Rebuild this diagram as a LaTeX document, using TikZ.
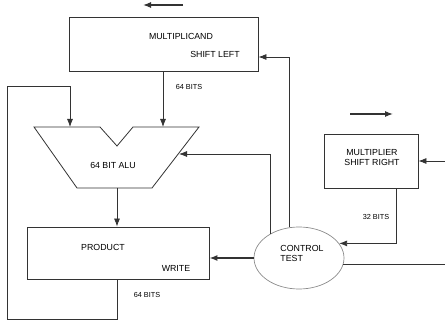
\documentclass[tikz,border=0pt]{standalone}
\usepackage{fontspec}
\setmainfont{Liberation Sans}
\usetikzlibrary{arrows.meta,shapes.geometric}

\tikzset{
  wire/.style={draw=black!80, line width=0.8pt},
  arr/.style={wire, -{Latex[length=8pt,width=6pt]}},
  reg/.style={draw=black!80, line width=0.8pt, rectangle, inner sep=0pt},
  lbl/.style={font=\fontsize{8.8}{10}\selectfont, inner sep=0pt},
  bits/.style={font=\fontsize{7.3}{8.5}\selectfont, inner sep=0pt}
}

\begin{document}
\begin{tikzpicture}[x=1pt,y=-1pt]
    \useasboundingbox (0,0) rectangle (445,326);

    % Registers and control
    \node[reg, minimum width=189pt, minimum height=54pt] (mcand) at (163.5,44) {};
    \node[reg, minimum width=182pt, minimum height=52pt] (prod) at (118,253) {};
    \node[reg, minimum width=94pt, minimum height=54pt] (mplier) at (371,161) {};
    \node[draw=black!45, line width=0.7pt, ellipse, minimum width=90pt, minimum height=62pt, inner sep=0pt] (ctrl) at (299,258) {};

    % ALU outline
    \draw[wire] (34,127) -- (100,127) -- (117,146) -- (133,127) -- (199,127)
                -- (152,188) -- (77,188) -- cycle;
    \coordinate (aluA) at (70,127);
    \coordinate (aluB) at (163,127);
    \coordinate (aluR) at (179,154);
    \coordinate (aluOut) at (117,188);

    % Texts
    \node[lbl] (tmcand) at (181,36) {MULTIPLICAND};
    \node[lbl] (tsl) at (215,54) {SHIFT LEFT};
    \node[lbl] (talu) at (113,165) {64 BIT ALU};
    \node[lbl] (tprod) at (103,247) {PRODUCT};
    \node[lbl] (twrite) at (176,268) {WRITE};
    \node[lbl, align=center] (tmplier) at (372,158) {MULTIPLIER\\SHIFT RIGHT};
    \node[lbl, align=left] (tctrl) at (302,253) {CONTROL\\TEST};
    \node[bits] (bitsA) at (189,87) {64 BITS};
    \node[bits] (bitsB) at (147,295) {64 BITS};
    \node[bits] (bitsC) at (376,217) {32 BITS};

    % Data paths
    \draw[arr] (mcand.south -| aluB) -- (aluB);
    \draw[arr] (aluOut) -- (aluOut |- prod.north);
    \draw[arr] (prod.south -| aluOut) -- ++(0,40) -| (7,86) -| (aluA);
    \draw[arr] ([xshift=25pt]mplier.south) |- (ctrl.20);

    % Control paths
    \draw[arr] (ctrl.140) |- (aluR);
    \draw[arr] (ctrl.107) |- ([yshift=-13pt]mcand.east);
    \draw[arr, line width=1.4pt] (ctrl.west) -- (ctrl.west -| prod.east);
    \coordinate (inR) at (445,161);
    \coordinate (outR) at (445,263);
    \draw[arr] (inR) -- (mplier.east);
    \draw[wire] (ctrl.-8) -- (ctrl.-8 -| outR);

    % Shift directions
    \coordinate (sl0) at (183,5);
    \coordinate (sl1) at (143,5);
    \coordinate (sr0) at (350,114);
    \coordinate (sr1) at (393,114);
    \draw[arr, line width=1.1pt] (sl0) -- (sl1);
    \draw[arr, line width=1.1pt] (sr0) -- (sr1);
\end{tikzpicture}
\end{document}
